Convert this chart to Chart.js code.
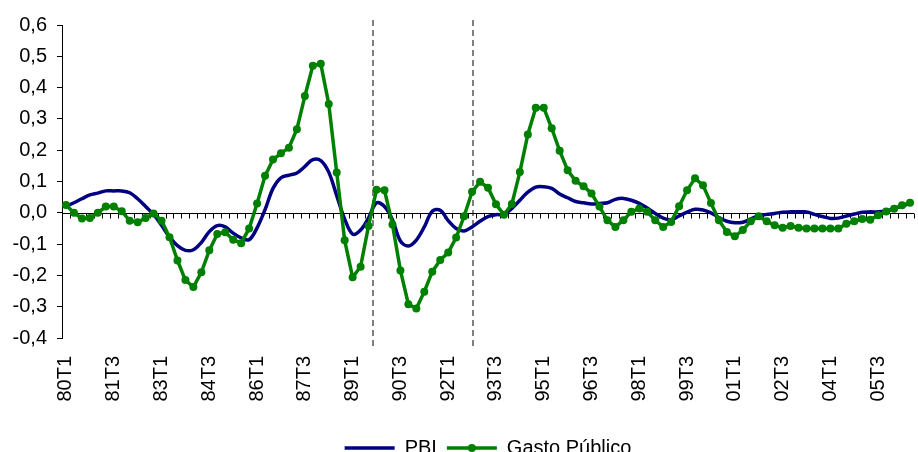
<!DOCTYPE html>
<html>
<head>
<meta charset="utf-8">
<script src="https://cdn.jsdelivr.net/npm/chart.js@4.4.1/dist/chart.umd.min.js"></script>
<style>
  html, body { margin: 0; padding: 0; background: #fff; overflow: hidden; }
  #wrap { width: 918px; height: 468px; }
</style>
</head>
<body>
<div id="wrap"><canvas id="chart"></canvas></div>
<script>
const quarters = [
  '80T1','80T2','80T3','80T4', '81T1','81T2','81T3','81T4', '82T1','82T2','82T3','82T4',
  '83T1','83T2','83T3','83T4', '84T1','84T2','84T3','84T4', '85T1','85T2','85T3','85T4',
  '86T1','86T2','86T3','86T4', '87T1','87T2','87T3','87T4', '88T1','88T2','88T3','88T4',
  '89T1','89T2','89T3','89T4', '90T1','90T2','90T3','90T4', '91T1','91T2','91T3','91T4',
  '92T1','92T2','92T3','92T4', '93T1','93T2','93T3','93T4', '94T1','94T2','94T3','94T4',
  '95T1','95T2','95T3','95T4', '96T1','96T2','96T3','96T4', '97T1','97T2','97T3','97T4',
  '98T1','98T2','98T3','98T4', '99T1','99T2','99T3','99T4', '00T1','00T2','00T3','00T4',
  '01T1','01T2','01T3','01T4', '02T1','02T2','02T3','02T4', '03T1','03T2','03T3','03T4',
  '04T1','04T2','04T3','04T4', '05T1','05T2','05T3','05T4', '06T1','06T2','06T3'
];

const pbi = [
  0.02, 0.032, 0.045, 0.057, 0.063, 0.07, 0.07, 0.07, 0.064, 0.045,
  0.02, -0.005, -0.04, -0.077, -0.105, -0.12, -0.118, -0.095, -0.06, -0.041,
  -0.045, -0.065, -0.08, -0.086, -0.048, 0.01, 0.078, 0.112, 0.12, 0.127,
  0.148, 0.17, 0.167, 0.13, 0.055, -0.02, -0.068, -0.055, -0.016, 0.032,
  0.02, -0.022, -0.09, -0.106, -0.087, -0.045, 0.005, 0.008, -0.025, -0.05,
  -0.058, -0.045, -0.027, -0.012, -0.006, -0.005, 0.014, 0.04, 0.066, 0.082,
  0.083, 0.078, 0.06, 0.048, 0.036, 0.032, 0.028, 0.03, 0.032, 0.043,
  0.046, 0.04, 0.03, 0.015, -0.002, -0.017, -0.022, -0.01, 0.002, 0.011,
  0.009, 0, -0.015, -0.027, -0.032, -0.03, -0.02, -0.009, -0.005, -0.002,
  0.002, 0.003, 0.003, 0.003, -0.005, -0.012, -0.018, -0.017, -0.01, -0.004,
  0.002, 0.003, 0.003, 0.006, 0.013, 0.022, 0.03
];

const gasto = [
  0.025, 0.0, -0.018, -0.017, 0.0, 0.02, 0.02, 0.005, -0.025, -0.03,
  -0.017, -0.002, -0.025, -0.078, -0.152, -0.215, -0.237, -0.19, -0.12, -0.068,
  -0.062, -0.086, -0.097, -0.05, 0.03, 0.118, 0.17, 0.19, 0.208, 0.267,
  0.373, 0.47, 0.476, 0.348, 0.129, -0.088, -0.206, -0.172, -0.042, 0.074,
  0.072, -0.037, -0.184, -0.292, -0.306, -0.252, -0.188, -0.151, -0.127, -0.079,
  -0.011, 0.067, 0.099, 0.08, 0.027, -0.006, 0.028, 0.13, 0.25, 0.336,
  0.336, 0.27, 0.198, 0.136, 0.102, 0.085, 0.062, 0.02, -0.024, -0.045,
  -0.024, 0.003, 0.014, 0.003, -0.024, -0.045, -0.029, 0.021, 0.072, 0.11,
  0.088, 0.031, -0.024, -0.061, -0.075, -0.055, -0.027, -0.011, -0.027, -0.04,
  -0.048, -0.042, -0.048, -0.05, -0.05, -0.05, -0.05, -0.05, -0.035, -0.027,
  -0.02, -0.022, -0.008, 0.004, 0.013, 0.024, 0.032
];

// dashed separators, as positions on the category axis (index of quarter)
const breakLines = [38.6, 51.1];

Chart.defaults.font.family = "'Liberation Sans', Arial, sans-serif";
Chart.defaults.font.size = 20;
Chart.defaults.color = '#000';

// zero axis with quarter tick marks and the dashed separators
const decor = {
  id: 'decor',
  beforeDatasetsDraw(chart) {
    const { ctx, chartArea: area } = chart;
    const x = chart.scales.x, y = chart.scales.y;
    ctx.save();
    ctx.strokeStyle = '#808080';
    ctx.lineWidth = 2;
    ctx.setLineDash([6, 4]);
    breakLines.forEach(pos => {
      const px = Math.round(x.getPixelForValue(pos));
      ctx.beginPath();
      ctx.moveTo(px, area.top - 5);
      ctx.lineTo(px, area.bottom + 8);
      ctx.stroke();
    });
    ctx.setLineDash([]);
    ctx.strokeStyle = '#000';
    ctx.lineWidth = 1;
    const y0 = Math.round(y.getPixelForValue(0)) + 0.5;
    const half = (x.getPixelForValue(1) - x.getPixelForValue(0)) / 2;
    ctx.beginPath();
    ctx.moveTo(area.left, y0);
    ctx.lineTo(area.right, y0);
    for (let i = 0; i <= quarters.length; i++) {
      const px = Math.round(x.getPixelForValue(i) - half) + 0.5;
      ctx.moveTo(px, y0);
      ctx.lineTo(px, y0 + 5);
    }
    ctx.stroke();
    ctx.restore();
  },
  afterDraw(chart) {
    // marker dot on the Gasto Público legend line
    const hb = chart.legend.legendHitBoxes[1];
    if (!hb) return;
    const ctx = chart.ctx;
    ctx.save();
    ctx.fillStyle = '#008000';
    ctx.beginPath();
    ctx.arc(hb.left + 25, hb.top + hb.height / 2, 4, 0, Math.PI * 2);
    ctx.fill();
    ctx.restore();
  }
};

new Chart(document.getElementById('chart'), {
  type: 'line',
  data: {
    labels: quarters,
    datasets: [{
      label: 'PBI',
      data: pbi,
      borderColor: '#000080',
      backgroundColor: '#000080',
      borderWidth: 3.5,
      pointRadius: 0,
      tension: 0.35,
      order: 1
    }, {
      label: 'Gasto Público',
      data: gasto,
      borderColor: '#008000',
      backgroundColor: '#008000',
      borderWidth: 3.5,
      pointRadius: 4,
      pointBorderWidth: 0,
      pointBackgroundColor: '#008000',
      tension: 0,
      order: 0
    }]
  },
  options: {
    responsive: true,
    maintainAspectRatio: false,
    animation: false,
    layout: { padding: { top: 25, left: 0, right: 0, bottom: 0 } },
    plugins: {
      tooltip: { enabled: false },
      legend: {
        position: 'bottom',
        fullSize: false,
        labels: {
          usePointStyle: true,
          pointStyle: 'line',
          pointStyleWidth: 50,
          padding: 10,
          color: '#000',
          sort: (a, b) => a.datasetIndex - b.datasetIndex,
          generateLabels(chart) {
            const items = Chart.defaults.plugins.legend.labels.generateLabels(chart);
            items.forEach(item => {
              const ds = chart.data.datasets[item.datasetIndex];
              item.strokeStyle = ds.borderColor;
              item.lineWidth = ds.borderWidth;
              item.pointStyle = 'line';
            });
            return items;
          }
        }
      }
    },
    scales: {
      x: {
        offset: true,
        grid: { display: false, drawTicks: false },
        border: { display: false },
        ticks: {
          autoSkip: false,
          minRotation: 90,
          maxRotation: 90,
          padding: 18,
          color: '#000',
          callback(value, index) {
            return index % 6 === 0 ? this.getLabelForValue(value) : '';
          }
        },
        afterFit(scale) {
          scale.height = 90;
          scale.paddingLeft = 0;
          scale.paddingRight = 0;
        }
      },
      y: {
        min: -0.4,
        max: 0.6,
        grid: { drawOnChartArea: false, drawTicks: true, tickLength: 5, color: '#000' },
        border: { color: '#000', width: 1 },
        ticks: {
          stepSize: 0.1,
          padding: 10,
          color: '#000',
          callback: v => (Math.round(v * 10) / 10).toFixed(1).replace('.', ',')
        },
        afterFit(scale) {
          scale.width = 62;
        }
      }
    }
  },
  plugins: [decor]
});
</script>
</body>
</html>
